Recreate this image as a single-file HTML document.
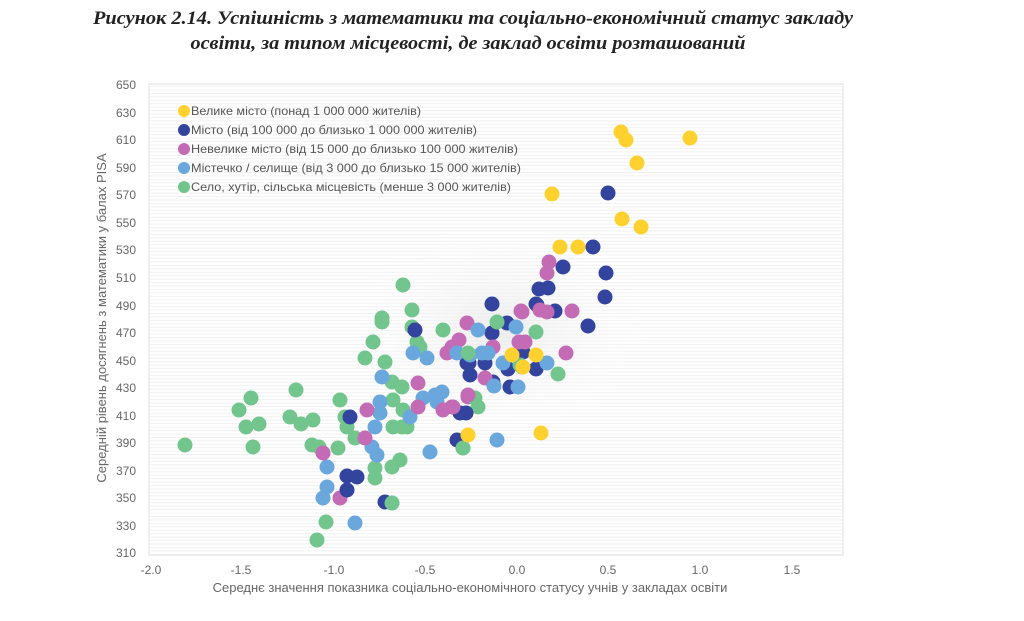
<!DOCTYPE html>
<html><head><meta charset="utf-8"><style>
html,body{margin:0;padding:0;background:#fff;width:1024px;height:621px;overflow:hidden}
</style></head><body>
<svg width="1024" height="621" viewBox="0 0 1024 621" xmlns="http://www.w3.org/2000/svg" font-family="Liberation Sans, sans-serif">
<defs>
<pattern id="st" width="4" height="3.44" patternUnits="userSpaceOnUse"><rect width="4" height="1" fill="#f1f1f1"/></pattern>
<radialGradient id="sh" cx="0.5" cy="0.5" r="0.5"><stop offset="0" stop-color="#e8e8e8" stop-opacity="0.8"/><stop offset="1" stop-color="#fff" stop-opacity="0"/></radialGradient>
</defs>
<text x="473" y="24" text-anchor="middle" font-family="Liberation Serif, serif" font-weight="bold" font-style="italic" font-size="19" fill="#222" textLength="760" lengthAdjust="spacingAndGlyphs">Рисунок 2.14. Успішність з математики та соціально-економічний статус закладу</text>
<text x="468" y="49" text-anchor="middle" font-family="Liberation Serif, serif" font-weight="bold" font-style="italic" font-size="19" fill="#222" textLength="555" lengthAdjust="spacingAndGlyphs">освіти, за типом місцевості, де заклад освіти розташований</text>
<rect x="149" y="84" width="694" height="471" fill="#fff" stroke="#ddd"/>
<rect x="150" y="85" width="692" height="469" fill="url(#st)"/>
<ellipse cx="500" cy="330" rx="150" ry="110" fill="url(#sh)"/>
<g font-size="12" fill="#666" text-anchor="end">
<text x="136" y="89">650</text><text x="136" y="117">630</text><text x="136" y="144">610</text><text x="136" y="172">590</text><text x="136" y="199">570</text><text x="136" y="227">550</text><text x="136" y="254">530</text><text x="136" y="282">510</text><text x="136" y="310">490</text><text x="136" y="337">470</text><text x="136" y="365">450</text><text x="136" y="392">430</text><text x="136" y="420">410</text><text x="136" y="447">390</text><text x="136" y="475">370</text><text x="136" y="502">350</text><text x="136" y="530">330</text><text x="136" y="557">310</text>
</g>
<g font-size="12" fill="#666" text-anchor="middle">
<text x="151" y="574">-2.0</text><text x="241" y="574">-1.5</text><text x="334" y="574">-1.0</text><text x="425" y="574">-0.5</text><text x="517" y="574">0.0</text><text x="608" y="574">0.5</text><text x="700" y="574">1.0</text><text x="792" y="574">1.5</text>
</g>
<text x="470" y="592" text-anchor="middle" font-size="13" fill="#666">Середнє значення показника соціально-економічного статусу учнів у закладах освіти</text>
<text transform="translate(106,318) rotate(-90)" text-anchor="middle" font-size="13" fill="#666">Середній рівень досягнень з математики  у балах PISA</text>
<g font-size="12" fill="#555">
<circle cx="184" cy="111" r="6" fill="#FFD12E"/><text x="191" y="115" textLength="230" lengthAdjust="spacingAndGlyphs">Велике місто (понад  1 000 000 жителів)</text>
<circle cx="184" cy="130" r="6" fill="#33449E"/><text x="191" y="134" textLength="286" lengthAdjust="spacingAndGlyphs">Місто (від 100 000 до близько 1 000 000 жителів)</text>
<circle cx="184" cy="149" r="6" fill="#C46BB5"/><text x="191" y="153" textLength="327" lengthAdjust="spacingAndGlyphs">Невелике місто (від 15 000 до близько 100 000 жителів)</text>
<circle cx="184" cy="168" r="6" fill="#6AA7DD"/><text x="191" y="172" textLength="330" lengthAdjust="spacingAndGlyphs">Містечко / селище (від 3 000 до близько 15 000 жителів)</text>
<circle cx="184" cy="187" r="6" fill="#72C58C"/><text x="191" y="191" textLength="320" lengthAdjust="spacingAndGlyphs">Село, хутір, сільська місцевість (менше 3 000 жителів)</text>
</g>
<g fill="#72C58C">
<circle cx="185" cy="445" r="7.5"/><circle cx="239" cy="410" r="7.5"/><circle cx="246" cy="427" r="7.5"/><circle cx="259" cy="424" r="7.5"/><circle cx="251" cy="398" r="7.5"/><circle cx="253" cy="447" r="7.5"/><circle cx="296" cy="390" r="7.5"/><circle cx="290" cy="417" r="7.5"/><circle cx="301" cy="424" r="7.5"/><circle cx="313" cy="420" r="7.5"/><circle cx="312" cy="445" r="7.5"/><circle cx="319" cy="447" r="7.5"/><circle cx="338" cy="448" r="7.5"/><circle cx="340" cy="400" r="7.5"/><circle cx="345" cy="417" r="7.5"/><circle cx="347" cy="427" r="7.5"/><circle cx="355" cy="438" r="7.5"/><circle cx="326" cy="522" r="7.5"/><circle cx="317" cy="540" r="7.5"/><circle cx="373" cy="342" r="7.5"/><circle cx="365" cy="358" r="7.5"/><circle cx="385" cy="362" r="7.5"/><circle cx="382" cy="322" r="7.5"/><circle cx="392" cy="382" r="7.5"/><circle cx="402" cy="387" r="7.5"/><circle cx="393" cy="400" r="7.5"/><circle cx="403" cy="410" r="7.5"/><circle cx="393" cy="427" r="7.5"/><circle cx="402" cy="427" r="7.5"/><circle cx="407" cy="427" r="7.5"/><circle cx="400" cy="460" r="7.5"/><circle cx="392" cy="467" r="7.5"/><circle cx="375" cy="468" r="7.5"/><circle cx="375" cy="478" r="7.5"/><circle cx="392" cy="503" r="7.5"/><circle cx="412" cy="327" r="7.5"/><circle cx="417" cy="342" r="7.5"/><circle cx="420" cy="347" r="7.5"/><circle cx="443" cy="330" r="7.5"/><circle cx="403" cy="285" r="7.5"/><circle cx="412" cy="310" r="7.5"/><circle cx="382" cy="318" r="7.5"/><circle cx="463" cy="448" r="7.5"/>
</g>
<g fill="#6AA7DD">
<circle cx="427" cy="358" r="7.5"/><circle cx="413" cy="353" r="7.5"/><circle cx="382" cy="377" r="7.5"/><circle cx="380" cy="402" r="7.5"/><circle cx="380" cy="413" r="7.5"/><circle cx="375" cy="427" r="7.5"/><circle cx="372" cy="447" r="7.5"/><circle cx="377" cy="455" r="7.5"/><circle cx="410" cy="417" r="7.5"/><circle cx="423" cy="398" r="7.5"/><circle cx="435" cy="395" r="7.5"/><circle cx="442" cy="392" r="7.5"/><circle cx="437" cy="402" r="7.5"/><circle cx="430" cy="452" r="7.5"/><circle cx="327" cy="467" r="7.5"/><circle cx="327" cy="487" r="7.5"/><circle cx="323" cy="498" r="7.5"/><circle cx="355" cy="523" r="7.5"/>
</g>
<g fill="#C46BB5">
<circle cx="418" cy="383" r="7.5"/><circle cx="418" cy="407" r="7.5"/><circle cx="443" cy="410" r="7.5"/><circle cx="452" cy="407" r="7.5"/><circle cx="468" cy="397" r="7.5"/><circle cx="367" cy="410" r="7.5"/><circle cx="365" cy="438" r="7.5"/><circle cx="323" cy="453" r="7.5"/><circle cx="340" cy="498" r="7.5"/>
</g>
<g fill="#33449E">
<circle cx="415" cy="330" r="7.5"/><circle cx="350" cy="417" r="7.5"/><circle cx="347" cy="476" r="7.5"/><circle cx="357" cy="477" r="7.5"/><circle cx="347" cy="490" r="7.5"/><circle cx="385" cy="502" r="7.5"/><circle cx="460" cy="413" r="7.5"/><circle cx="457" cy="440" r="7.5"/>
</g>
<g fill="#72C58C"><circle cx="392" cy="503" r="7.5"/><circle cx="475" cy="398" r="7.5"/><circle cx="478" cy="407" r="7.5"/><circle cx="463" cy="448" r="7.5"/></g>
<g fill="#33449E">
<circle cx="608" cy="193" r="7.5"/><circle cx="593" cy="247" r="7.5"/><circle cx="563" cy="267" r="7.5"/><circle cx="606" cy="273" r="7.5"/><circle cx="605" cy="297" r="7.5"/><circle cx="539" cy="289" r="7.5"/><circle cx="548" cy="288" r="7.5"/><circle cx="536" cy="304" r="7.5"/><circle cx="555" cy="311" r="7.5"/><circle cx="588" cy="326" r="7.5"/><circle cx="492" cy="304" r="7.5"/><circle cx="492" cy="333" r="7.5"/><circle cx="507" cy="323" r="7.5"/><circle cx="523" cy="352" r="7.5"/><circle cx="469" cy="363" r="7.5"/><circle cx="485" cy="363" r="7.5"/><circle cx="508" cy="369" r="7.5"/><circle cx="536" cy="369" r="7.5"/><circle cx="470" cy="375" r="7.5"/><circle cx="510" cy="387" r="7.5"/><circle cx="466" cy="413" r="7.5"/><circle cx="493" cy="382" r="7.5"/><circle cx="467" cy="363" r="7.5"/><circle cx="537" cy="305" r="7.5"/>
</g>
<g fill="#C46BB5">
<circle cx="549" cy="262" r="7.5"/><circle cx="547" cy="273" r="7.5"/><circle cx="521" cy="311" r="7.5"/><circle cx="540" cy="310" r="7.5"/><circle cx="547" cy="312" r="7.5"/><circle cx="572" cy="311" r="7.5"/><circle cx="467" cy="323" r="7.5"/><circle cx="519" cy="342" r="7.5"/><circle cx="525" cy="342" r="7.5"/><circle cx="459" cy="340" r="7.5"/><circle cx="452" cy="347" r="7.5"/><circle cx="566" cy="353" r="7.5"/><circle cx="485" cy="378" r="7.5"/><circle cx="468" cy="395" r="7.5"/><circle cx="453" cy="407" r="7.5"/><circle cx="493" cy="347" r="7.5"/><circle cx="447" cy="353" r="7.5"/><circle cx="522" cy="312" r="7.5"/>
</g>
<g fill="#6AA7DD">
<circle cx="478" cy="330" r="7.5"/><circle cx="516" cy="327" r="7.5"/><circle cx="457" cy="353" r="7.5"/><circle cx="470" cy="355" r="7.5"/><circle cx="482" cy="353" r="7.5"/><circle cx="488" cy="353" r="7.5"/><circle cx="503" cy="363" r="7.5"/><circle cx="547" cy="363" r="7.5"/><circle cx="494" cy="386" r="7.5"/><circle cx="518" cy="387" r="7.5"/><circle cx="497" cy="440" r="7.5"/>
</g>
<g fill="#72C58C">
<circle cx="497" cy="322" r="7.5"/><circle cx="536" cy="332" r="7.5"/><circle cx="522" cy="367" r="7.5"/><circle cx="468" cy="353" r="7.5"/><circle cx="558" cy="374" r="7.5"/><circle cx="520" cy="365" r="7.5"/>
</g>
<g fill="#FFD12E">
<circle cx="621" cy="132" r="7.5"/><circle cx="626" cy="140" r="7.5"/><circle cx="690" cy="138" r="7.5"/><circle cx="637" cy="163" r="7.5"/><circle cx="552" cy="194" r="7.5"/><circle cx="622" cy="219" r="7.5"/><circle cx="641" cy="227" r="7.5"/><circle cx="560" cy="247" r="7.5"/><circle cx="578" cy="247" r="7.5"/><circle cx="512" cy="355" r="7.5"/><circle cx="536" cy="355" r="7.5"/><circle cx="523" cy="367" r="7.5"/><circle cx="468" cy="435" r="7.5"/><circle cx="541" cy="433" r="7.5"/>
</g>
</svg>
</body></html>
